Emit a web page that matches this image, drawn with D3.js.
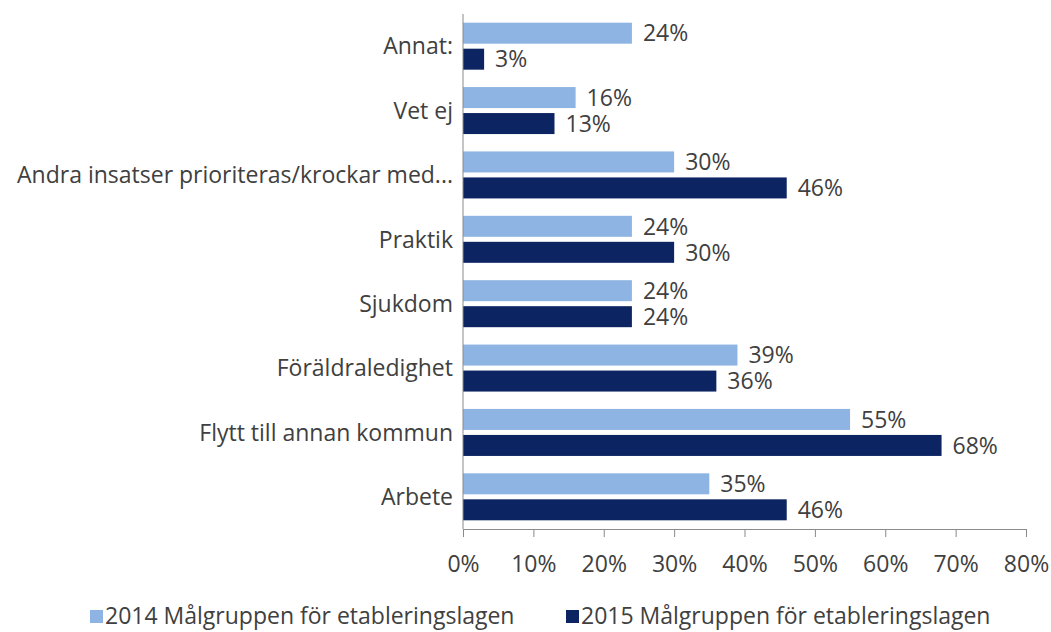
<!DOCTYPE html>
<html>
<head>
<meta charset="utf-8">
<script src="https://cdn.jsdelivr.net/npm/d3@7"></script>
<style>
  body { margin: 0; background: #fff; }
  text { font-family: "Open Sans", sans-serif; fill: #404040; }
</style>
</head>
<body>
<div id="chart-area"></div>
<script>
// data, top to bottom
let categories = ["Annat:", "Vet ej", "Andra insatser prioriteras/krockar med...", "Praktik",
                  "Sjukdom", "Föräldraledighet", "Flytt till annan kommun", "Arbete"];
let values2014 = [24, 16, 30, 24, 24, 39, 55, 35];
let values2015 = [3, 13, 46, 30, 24, 36, 68, 46];
let seriesNames = ["2014 Målgruppen för etableringslagen", "2015 Målgruppen för etableringslagen"];
let xTicks = [0, 10, 20, 30, 40, 50, 60, 70, 80];

let colors = ["#8db4e2", "#0c2461"];
let fontSize = "23px";

let svg = d3.select("#chart-area")
	.append("svg")
	.attr("width", 1051)
	.attr("height", 632);

let xScale = d3.scaleLinear()
	.domain([0, 80])
	.range([463, 1026]);

let yScale = d3.scaleBand()
	.domain(categories)
	.range([14, 529]);

let series = [values2014, values2015];
let barH = 21;

// bars
series.forEach(function(vals, s){
	let rows = categories.map(function(c, i){ return { cat: c, v: vals[i] }; });
	let offset = s === 0 ? -barH - 2.5 : 2.5;

	svg.append("g").selectAll("rect")
		.data(rows)
		.enter().append("rect")
		.attr("x", xScale(0))
		.attr("y", function(d){ return yScale(d.cat) + yScale.bandwidth() / 2 + offset; })
		.attr("width", function(d){ return xScale(d.v) - xScale(0); })
		.attr("height", barH)
		.attr("fill", colors[s]);

	svg.append("g").selectAll("text")
		.data(rows)
		.enter().append("text")
		.attr("x", function(d){ return xScale(d.v) + 11; })
		.attr("y", function(d){ return yScale(d.cat) + yScale.bandwidth() / 2 + offset + barH / 2; })
		.attr("dy", "0.36em")
		.attr("font-size", fontSize)
		.text(function(d){ return d.v + "%"; });
});

// x axis
let xAxisCall = d3.axisBottom(xScale)
	.tickValues(xTicks)
	.tickSize(8)
	.tickSizeOuter(0)
	.tickPadding(19)
	.tickFormat(function(d){ return d + "%"; });

let xAxis = svg.append("g")
	.attr("transform", "translate(0, 529)")
	.call(xAxisCall);
xAxis.select(".domain").attr("stroke", "#8a8a8a");
xAxis.selectAll("line").attr("stroke", "#8a8a8a");
xAxis.selectAll("text")
	.attr("font-size", fontSize)
	.attr("font-family", "Open Sans, sans-serif")
	.attr("fill", "#404040");

// y axis line and category labels
svg.append("line")
	.attr("x1", xScale(0)).attr("x2", xScale(0))
	.attr("y1", yScale.range()[0]).attr("y2", yScale.range()[1])
	.attr("stroke", "#8a8a8a");

svg.append("g").selectAll("text")
	.data(categories)
	.enter().append("text")
	.attr("x", 453)
	.attr("y", function(d){ return yScale(d) + yScale.bandwidth() / 2; })
	.attr("dy", "0.36em")
	.attr("text-anchor", "end")
	.attr("font-size", fontSize)
	.text(function(d){ return d; });

// legend
let legendX = [90, 566];
seriesNames.forEach(function(name, i){
	let row = svg.append("g")
		.attr("transform", "translate(" + legendX[i] + ", 616)");
	row.append("rect")
		.attr("x", 0)
		.attr("y", -6)
		.attr("width", 13)
		.attr("height", 13)
		.attr("fill", colors[i]);
	row.append("text")
		.attr("x", 15)
		.attr("y", 0)
		.attr("dy", "0.36em")
		.attr("font-size", fontSize)
		.text(name);
});
</script>
</body>
</html>
